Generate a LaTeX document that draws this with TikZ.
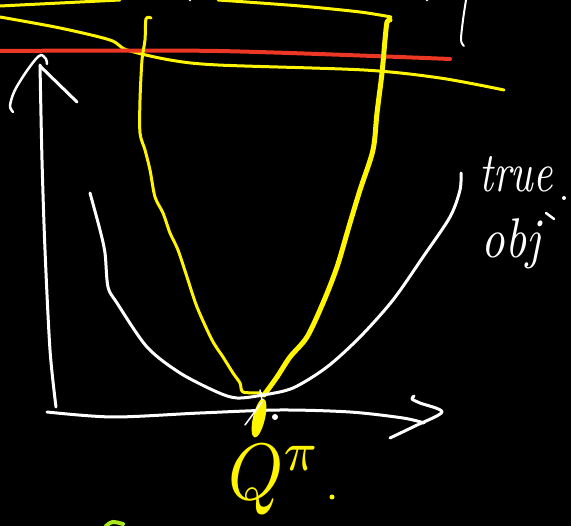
\documentclass[tikz,border=0pt]{standalone}
\usepackage{fontspec}
\begin{document}
\begin{tikzpicture}[x=1pt,y=-1pt,
  wstroke/.style={draw=white,line width=3pt,line cap=round,line join=round},
  ystroke/.style={draw=penyellow,line width=3pt,line cap=round,line join=round},
  ythick/.style={draw=penyellow,line width=5pt,line cap=round,line join=round},
  rstroke/.style={draw=penred,line width=4pt,line cap=round},
  wtext/.style={text=white,inner sep=0pt},
  ytext/.style={text=penyellow,inner sep=0pt}]
\definecolor{penyellow}{RGB}{255,245,0}
\definecolor{penred}{RGB}{235,55,35}
\definecolor{pengreen}{RGB}{170,230,30}
\fill[black] (0,0) rectangle (571,526);
\useasboundingbox (0,0) rectangle (571,526);
% top yellow strokes
\draw[ystroke] (0,6) -- (120,0);
\draw[ystroke] plot[smooth] coordinates {(218,0) (300,6) (360,12) (391,17)};
\draw[ystroke] plot[smooth] coordinates {(0,17) (60,28) (110,40) (127,50) (170,60) (218,65) (364,70) (440,78) (504,90)};
% red line
\draw[rstroke] plot[smooth] coordinates {(0,51) (218,51) (450,59)};
% tiny white marks at top
\draw[wstroke,line width=2pt] plot[smooth] coordinates {(466,0) (463,20) (461,40) (464,46)};
\fill[white] (190,0) circle (1.5pt);
\fill[white] (427,0) circle (1.5pt);
% narrow yellow parabola
\draw[ystroke] plot[smooth] coordinates {(151,18) (146,19) (145,40) (142,60) (140,100) (140,133) (145,150) (150,170) (155,197) (163,213) (170,233) (178,250) (187,277) (197,307) (212,340) (223,357) (233,373) (240,383) (243,392) (260,393) (264,396)};
\draw[ythick] plot[smooth] coordinates {(264,395) (277,377) (290,357) (307,337) (323,303) (337,267) (350,223) (360,190) (373,150) (377,113) (382,73) (385,40) (387,22) (390,20)};
% axes
\draw[wstroke] plot[smooth] coordinates {(40,65) (42,160) (45,250) (50,350) (56,407)};
\draw[wstroke] (40,66) -- (77,102);
\draw[wstroke,line width=2.5pt] plot[smooth] coordinates {(13,112) (10,106) (14,92) (24,75) (35,60) (41,55) (46,59) (47,64)};
\draw[wstroke] plot[smooth] coordinates {(47,412) (113,417) (200,413) (280,410) (350,412) (403,418) (424,423)};
\draw[wstroke] plot[smooth] coordinates {(414,396) (412,399) (420,403) (442,412) (415,426) (390,438)};
% true objective curve
\draw[wstroke] plot[smooth] coordinates {(90,193) (100,230) (105,253) (108,287) (117,303) (147,347) (180,373) (217,392) (237,398) (263,395) (293,388) (327,367) (360,337) (393,300) (423,257) (450,217) (460,190) (461,173)};
% optimum blob
\fill[penyellow,rotate around={-13:(259,418)}] (259,418) ellipse [x radius=6pt, y radius=20pt];
\draw[wstroke,line width=1.5pt] (245,425) -- (262,402);
\draw[wstroke,line width=1.5pt] (260,390) -- (262,400);
\fill[white] (275,417) circle (3pt);
% labels
\node[wtext,anchor=base] (true) at (516,192) {\scalebox{4.2}[5.6]{\itshape true}};
\node[wtext,anchor=base] (obj) at (511,258) {\scalebox{4.6}[5.6]{\itshape obj}};
\draw[wstroke,line width=2.5pt] (546,213) -- (554,219);
\fill[white] (564,198) circle (2pt);
\node[ytext,anchor=base west] (Q) at (228,500) {\scalebox{7}[8]{$Q^{\pi}$}};
\fill[penyellow] (332,497) circle (2.5pt);
% green mark
\draw[draw=pengreen,line width=4pt,line cap=round] (106,526) .. controls (112,521) .. (123,524);
\end{tikzpicture}
\end{document}
